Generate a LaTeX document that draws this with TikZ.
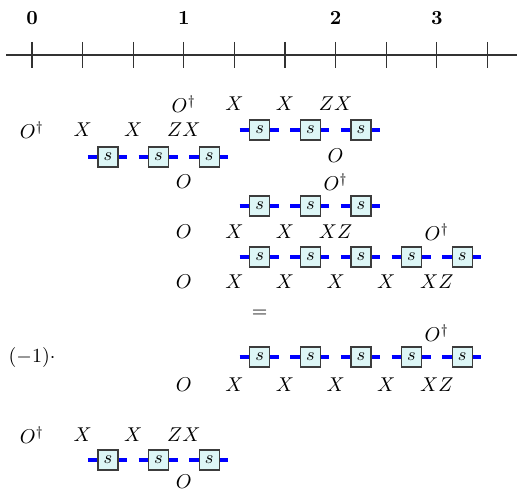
\documentclass[tikz,border=0pt]{standalone}
\usetikzlibrary{calc}
\definecolor{boxfill}{RGB}{221,246,246}
\definecolor{boxdraw}{RGB}{60,60,60}
\definecolor{axisgray}{RGB}{50,50,50}
\tikzset{
  lab/.style={inner sep=0pt},
  gatebox/.style={draw=boxdraw,fill=boxfill,line width=0.6pt,minimum size=10pt,inner sep=0pt,font=\small},
  wire/.style={draw=blue,line width=2pt},
  axis/.style={draw=axisgray,line width=0.6pt},
  ticklab/.style={inner sep=0pt,font=\bfseries},
}
\newcommand\mygate[3]{% name, column, row y
  \coordinate (#1l) at ({32+50.6*#2-20},#3);
  \coordinate (#1r) at ({32+50.6*#2+19},#3);
  \draw[wire] (#1l) -- (#1r);
  \node[gatebox] (#1) at ({32+50.6*#2},#3) {$s$};}
\newcommand\mylab[4]{% name, column, y, text
  \node[lab] (#1) at ({32+50.6*#2},#3) {$#4$};}
\begin{document}
\begin{tikzpicture}[x=0.5pt,y=-0.5pt]
\useasboundingbox (0,0) rectangle (517,491);
% axis
\coordinate (axL) at (6,55);
\coordinate (axR) at (517,55);
\draw[axis] (axL) -- (axR);
\foreach \i in {0,...,9}{
  \coordinate (t\i a) at ({32+50.6*\i},42);
  \coordinate (t\i b) at ({32+50.6*\i},68);
  \draw[axis] (t\i a) -- (t\i b);
}
\node[ticklab] (n0) at (32,18) {0};
\node[ticklab] (n1) at ({32+50.6*3},18) {1};
\node[ticklab] (n2) at ({32+50.6*6},18) {2};
\node[ticklab] (n3) at ({32+50.6*8},18) {3};
% group 1
\mylab{a0}{0}{130}{O^\dagger}
\mylab{a1}{1}{130}{X}
\mylab{a2}{2}{130}{X}
\mylab{a3}{3}{130}{ZX}
\mygate{ga1}{1.5}{157}
\mygate{ga2}{2.5}{157}
\mygate{ga3}{3.5}{157}
\mylab{a4}{3}{182}{O}
% group 2
\mylab{b0}{3}{104}{O^\dagger}
\mylab{b1}{4}{104}{X}
\mylab{b2}{5}{104}{X}
\mylab{b3}{6}{104}{ZX}
\mygate{gb1}{4.5}{130}
\mygate{gb2}{5.5}{130}
\mygate{gb3}{6.5}{130}
\mylab{b4}{6}{156}{O}
% group 3
\mylab{c0}{6}{182}{O^\dagger}
\mygate{gc1}{4.5}{206}
\mygate{gc2}{5.5}{206}
\mygate{gc3}{6.5}{206}
\mylab{c1}{3}{232}{O}
\mylab{c2}{4}{232}{X}
\mylab{c3}{5}{232}{X}
\mylab{c4}{6}{232}{XZ}
% group 4
\mylab{d0}{8}{232}{O^\dagger}
\mygate{gd1}{4.5}{257}
\mygate{gd2}{5.5}{257}
\mygate{gd3}{6.5}{257}
\mygate{gd4}{7.5}{257}
\mygate{gd5}{8.5}{257}
\mylab{d1}{3}{282}{O}
\mylab{d2}{4}{282}{X}
\mylab{d3}{5}{282}{X}
\mylab{d4}{6}{282}{X}
\mylab{d5}{7}{282}{X}
\mylab{d6}{8}{282}{XZ}
% equals
\mylab{eq}{4.5}{314}{=}
% group 5
\mylab{e0}{8}{333}{O^\dagger}
\node[lab] (m1) at (32,357) {$(-1)\cdot$};
\mygate{ge1}{4.5}{357}
\mygate{ge2}{5.5}{357}
\mygate{ge3}{6.5}{357}
\mygate{ge4}{7.5}{357}
\mygate{ge5}{8.5}{357}
\mylab{e1}{3}{385}{O}
\mylab{e2}{4}{385}{X}
\mylab{e3}{5}{385}{X}
\mylab{e4}{6}{385}{X}
\mylab{e5}{7}{385}{X}
\mylab{e6}{8}{385}{XZ}
% group 6
\mylab{f0}{0}{435}{O^\dagger}
\mylab{f1}{1}{435}{X}
\mylab{f2}{2}{435}{X}
\mylab{f3}{3}{435}{ZX}
\mygate{gf1}{1.5}{460}
\mygate{gf2}{2.5}{460}
\mygate{gf3}{3.5}{460}
\mylab{f4}{3}{482}{O}
\end{tikzpicture}
\end{document}
